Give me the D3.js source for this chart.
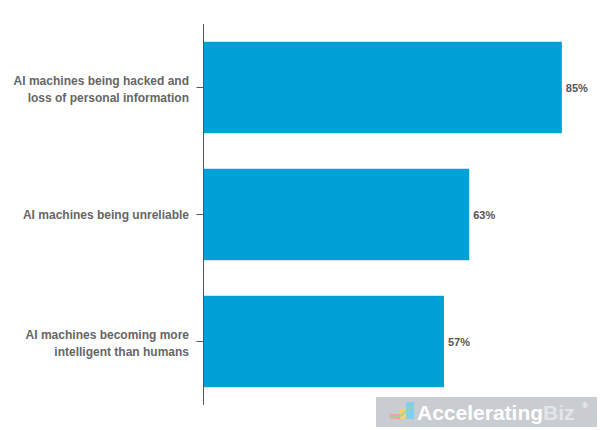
<!DOCTYPE html>
<html>
<head>
<meta charset="utf-8">
<script src="https://cdn.jsdelivr.net/npm/d3@7"></script>
<style>
  body { margin: 0; background: #fff; }
  text { font-family: "Liberation Sans", Arial, Helvetica, sans-serif; }
</style>
</head>
<body>
<div id="chart"></div>
<script>
// data
const CATEGORIES = [
  ["AI machines being hacked and", "loss of personal information"],
  ["AI machines being unreliable"],
  ["AI machines becoming more", "intelligent than humans"]
];
const VALUES = [85, 63, 57];
const LABELS = ["85%", "63%", "57%"];

const WIDTH = 600
const HEIGHT = 430
const MARGINS = {left: 204, right: 0, top: 24, bottom: 25};

const svg = d3.select("#chart")
  .append("svg")
    .attr("width", WIDTH)
    .attr("height", HEIGHT);

const X = d3.scaleLinear()
  .domain([0, 100])
  .range([MARGINS.left, 625]);

const Y = d3.scaleBand()
  .domain(d3.range(CATEGORIES.length))
  .range([MARGINS.top, HEIGHT - MARGINS.bottom])
  .paddingInner(0.28)
  .paddingOuter(0.14);

// bars
svg.selectAll(".bar")
  .data(VALUES)
  .enter()
  .append("rect")
    .attr("class", "bar")
    .attr("x", X(0))
    .attr("y", (d, i) => Y(i))
    .attr("width", (d) => X(d) - X(0))
    .attr("height", Y.bandwidth())
    .attr("fill", "#00a1d7");

// value labels
svg.selectAll(".val")
  .data(VALUES)
  .enter()
  .append("text")
    .attr("x", (d) => X(d) + 4)
    .attr("y", (d, i) => Y(i) + Y.bandwidth() / 2 + 4)
    .attr("font-size", 11)
    .attr("font-weight", "bold")
    .attr("fill", "#555")
    .text((d, i) => LABELS[i]);

// y axis
const yAxis = svg.append("g")
  .attr("transform", `translate(${MARGINS.left - 0.5},0)`)
  .call(d3.axisLeft(Y).tickSize(7).tickFormat(""));
yAxis.select(".domain").attr("stroke", "#555").attr("d", `M0,${MARGINS.top}V${HEIGHT - MARGINS.bottom}`);
yAxis.selectAll(".tick line").attr("stroke", "#555");

// category labels
const cat = svg.selectAll(".cat")
  .data(CATEGORIES)
  .enter()
  .append("text")
    .attr("class", "cat")
    .attr("text-anchor", "end")
    .attr("font-size", 12)
    .attr("font-weight", "bold")
    .attr("fill", "#666")
    .attr("y", (d, i) => Y(i) + Y.bandwidth() / 2);
cat.selectAll("tspan")
  .data((d) => d.map((line, j) => ({line, j, n: d.length})))
  .enter()
  .append("tspan")
    .attr("x", 189)
    .attr("dy", (d) => d.j === 0 ? (d.n === 1 ? 4.5 : -2.5) : 16.5)
    .text((d) => d.line);

// logo
const logo = svg.append("g").attr("transform", "translate(376,397)");
logo.append("rect").attr("width", 221).attr("height", 30).attr("fill", "#c9cdd2");
logo.append("rect").attr("x", 14).attr("y", 17).attr("width", 10).attr("height", 5).attr("fill", "#f0a0a8");
logo.append("rect").attr("x", 24).attr("y", 12).attr("width", 6).attr("height", 10).attr("fill", "#f5d27a");
logo.append("rect").attr("x", 30).attr("y", 5).attr("width", 8).attr("height", 17).attr("fill", "#7fd0ee");
logo.append("path").attr("d", "M14,21 L24,19 L32,13 L37,9").attr("stroke", "#9fd59a").attr("stroke-width", 2).attr("fill", "none");
const lt = logo.append("text").attr("x", 41).attr("y", 23).attr("font-size", 21).attr("font-weight", "bold").attr("fill", "#fff");
lt.append("tspan").text("Accelerating");
lt.append("tspan").attr("fill", "#e3e6e9").text("Biz");
logo.append("text").attr("x", 206).attr("y", 11).attr("font-size", 8).attr("fill", "#fff").text("®");
</script>
</body>
</html>
